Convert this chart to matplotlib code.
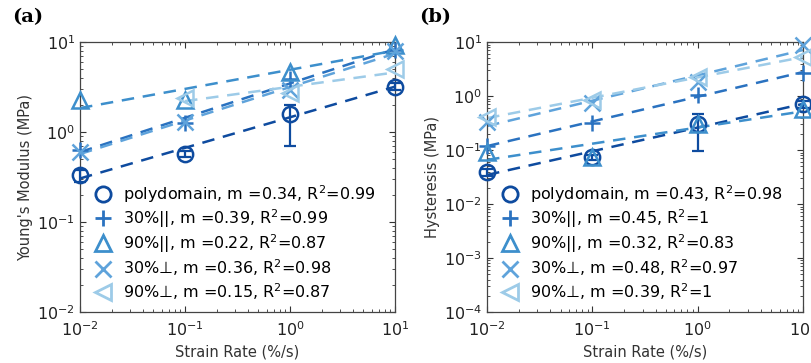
import numpy as np
import matplotlib
matplotlib.use("Agg")
import matplotlib.pyplot as plt
from matplotlib.lines import Line2D
from matplotlib.ticker import LogLocator, NullFormatter

plt.rcParams["font.family"] = ["DejaVu Sans"]

# strain rates (%/s)
rates = [0.01, 0.1, 1, 10]

series_names = ["polydomain", "30%||", "90%||", "30%⊥", "90%⊥"]
colors = ["#0e4b9f", "#2a72c0", "#3d8fcc", "#5fa3db", "#9dcbe8"]
markers = ["o", "+", "^", "x", "<"]

# (a) Young's modulus (MPa); NaN = no point
mod_poly = [0.33, 0.57, 1.58, 3.2]
mod_30par = [0.63, 1.26, 3.9, 8.1]
mod_90par = [2.3, 2.25, 4.6, 9.3]
mod_30perp = [0.6, 1.3, 2.9, 8.0]
mod_90perp = [np.nan, 2.4, 2.7, 5.0]
mod_err_lo = [0.05, 0.04, 0.88, 0.3]
mod_err_hi = [0.05, 0.04, 0.42, 0.3]
mod_m = ["0.34", "0.39", "0.22", "0.36", "0.15"]
mod_r2 = ["0.99", "0.99", "0.87", "0.98", "0.87"]

# (b) hysteresis (MPa)
hys_poly = [0.039, 0.074, 0.30, 0.71]
hys_30par = [0.12, 0.32, 1.05, 2.7]
hys_90par = [0.093, 0.073, 0.30, 0.58]
hys_30perp = [0.33, 0.74, 1.8, 9.0]
hys_90perp = [0.41, 0.85, 2.3, 5.3]
hys_err_lo = [0.006, 0.008, 0.205, 0.1]
hys_err_hi = [0.006, 0.008, 0.16, 0.1]
hys_m = ["0.43", "0.45", "0.32", "0.48", "0.39"]
hys_r2 = ["0.98", "1", "0.83", "0.97", "1"]


def draw_panel(ax, data, err_lo, err_hi, m_vals, r2_vals, ylim, ylabel, tag):
    x = np.array(rates, dtype=float)
    for i, y in enumerate(data):
        y = np.array(y, dtype=float)
        ok = ~np.isnan(y)
        # power-law fit in log space
        p = np.polyfit(np.log10(x[ok]), np.log10(y[ok]), 1)
        xf = np.array([x[ok].min(), x[ok].max()])
        ax.plot(xf, 10 ** np.polyval(p, np.log10(xf)), "--", color=colors[i],
                lw=1.8, dashes=(5, 3.5), zorder=2)
        ms = 12 if markers[i] in ("^", "<") else 11
        ax.plot(x[ok], y[ok], linestyle="none", marker=markers[i], ms=ms,
                mfc="none", mec=colors[i], mew=1.8, clip_on=False, zorder=3)
        if i == 0:
            ax.errorbar(x, y, yerr=[err_lo, err_hi], fmt="none", ecolor=colors[i],
                        elinewidth=1.6, capsize=4, capthick=1.6, clip_on=False, zorder=3)

    ax.set_xscale("log")
    ax.set_yscale("log")
    ax.set_xlim(1e-2, 1e1)
    ax.set_ylim(*ylim)
    ax.xaxis.set_major_locator(LogLocator(base=10, numticks=10))
    ax.yaxis.set_major_locator(LogLocator(base=10, numticks=10))
    ax.xaxis.set_minor_locator(LogLocator(base=10, subs=np.arange(2, 10), numticks=20))
    ax.yaxis.set_minor_locator(LogLocator(base=10, subs=np.arange(2, 10), numticks=20))
    ax.yaxis.set_minor_formatter(NullFormatter())
    ax.xaxis.set_minor_formatter(NullFormatter())
    ax.tick_params(which="both", direction="in", top=True, right=True, labelsize=11.5,
                   color="#333333", labelcolor="#222222")
    ax.tick_params(axis="x", which="major", pad=6)
    ax.tick_params(which="major", length=4)
    ax.tick_params(which="minor", length=2)
    for s in ax.spines.values():
        s.set_color("#444444")
        s.set_linewidth(0.9)
    ax.set_xlabel("Strain Rate (%/s)", fontsize=10.5, color="#333333", labelpad=4)
    ax.set_ylabel(ylabel, fontsize=10.5, color="#333333", labelpad=3)

    handles = []
    labels = []
    for i in range(len(series_names)):
        handles.append(Line2D([], [], linestyle="none", marker=markers[i], ms=11,
                              mfc="none", mec=colors[i], mew=2))
        labels.append(f"{series_names[i]}, m ={m_vals[i]}, R$^2$={r2_vals[i]}")
    ax.legend(handles, labels, loc="lower left", frameon=False, fontsize=11.5,
              handlelength=1.3, handletextpad=0.6, labelspacing=0.16,
              borderaxespad=0.0, bbox_to_anchor=(0.02, 0.015))

    ax.text(-0.215, 1.125, tag, transform=ax.transAxes, fontsize=14, fontweight="bold",
            family="DejaVu Serif", va="top")


fig = plt.figure(figsize=(8.12, 3.63), dpi=100)
ax1 = fig.add_axes([0.0985, 0.1405, 0.388, 0.7435])
ax2 = fig.add_axes([0.5998, 0.1405, 0.389, 0.7435])

draw_panel(ax1, [mod_poly, mod_30par, mod_90par, mod_30perp, mod_90perp],
           mod_err_lo, mod_err_hi, mod_m, mod_r2, (1e-2, 1e1),
           "Young's Modulus (MPa)", "(a)")
draw_panel(ax2, [hys_poly, hys_30par, hys_90par, hys_30perp, hys_90perp],
           hys_err_lo, hys_err_hi, hys_m, hys_r2, (1e-4, 1e1),
           "Hysteresis (MPa)", "(b)")

fig.savefig("out.png", dpi=100)
